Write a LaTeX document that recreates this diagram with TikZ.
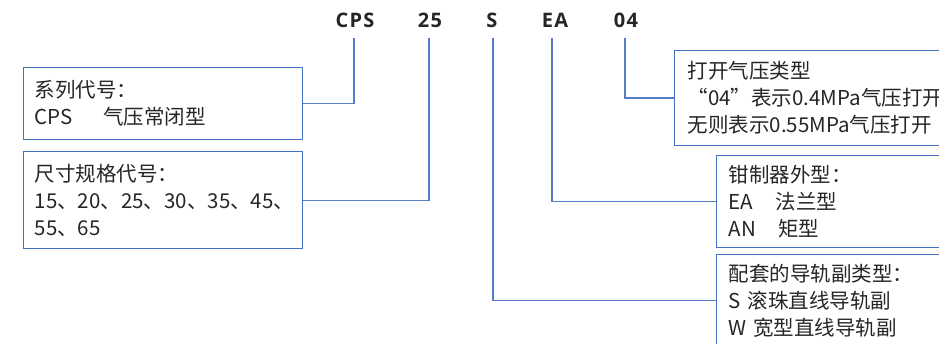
\documentclass[tikz,border=0pt]{standalone}
\usepackage{fontspec}
\setmainfont{Noto Sans CJK SC}
\newfontfamily\titlefont{Open Sans}[LetterSpace=6]
\definecolor{boxblue}{RGB}{68,114,196}
\definecolor{lineblue}{RGB}{84,126,200}
\definecolor{txt}{RGB}{38,38,38}
\tikzset{
  infobox/.style={draw=boxblue, line width=1.3pt, anchor=north west, align=left,
    inner xsep=11pt, inner ysep=0pt, font=\fontsize{20.5}{27}\selectfont, text=txt},
  codetext/.style={font=\titlefont\bfseries\fontsize{20}{20}\selectfont, text=txt, inner sep=0pt},
  conn/.style={draw=lineblue, line width=1.3pt}
}
\begin{document}
\begin{tikzpicture}[x=1pt,y=-1pt]
\useasboundingbox (0,0) rectangle (939,344);
\clip (0,0) rectangle (939,344);
\fill[white] (0,0) rectangle (939,344);
% code letters
\node[codetext] (cps) at (355,20) {CPS};
\node[codetext] (n25) at (430,20) {25};
\node[codetext] (s) at (492,20) {S};
\node[codetext] (ea) at (555,20) {EA};
\node[codetext] (n04) at (626,20) {04};
% boxes
\node[infobox, text width=257pt, minimum height=72pt] (b1) at (23,67)
  {系列代号：\\CPS\hspace{1.5em}气压常闭型};
\node[infobox, text width=257pt, minimum height=97pt] (b2) at (23,151)
  {尺寸规格代号：\\15、20、25、30、35、45、\\55、65};
\node[infobox, text width=300pt, minimum height=95pt, inner xsep=13pt] (b3) at (674,50)
  {打开气压类型\\“04”表示0.4MPa气压打开\\无则表示0.55MPa气压打开};
\node[infobox, text width=300pt, minimum height=92pt, inner xsep=12pt] (b4) at (716,155)
  {钳制器外型：\\EA\hspace{1.1em}法兰型\\AN\hspace{1.1em}矩型};
\node[infobox, text width=300pt, minimum height=92pt, inner xsep=12pt] (b5) at (716,254)
  {配套的导轨副类型：\\S 滚珠直线导轨副\\W 宽型直线导轨副};
% connectors
\coordinate (c1) at (354,38);
\coordinate (c2) at (429,38);
\coordinate (c3) at (493,38);
\coordinate (c4) at (552,38);
\coordinate (c5) at (625,38);
\draw[conn] (c1) |- (b1.east);
\draw[conn] (c2) |- ([yshift=-0.5pt]b2.east);
\draw[conn] (c3) |- (b5.west);
\draw[conn] (c4) |- (b4.west);
\draw[conn] (c5) |- (b3.west);
\end{tikzpicture}
\end{document}
